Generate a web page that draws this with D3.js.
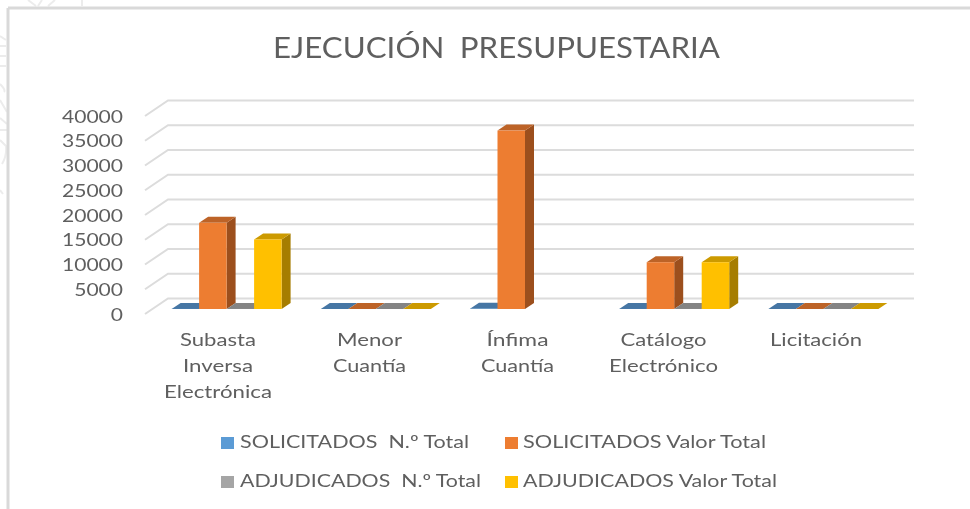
<!DOCTYPE html>
<html>
<head>
<meta charset="utf-8">
<title>Ejecución presupuestaria</title>
<script src="https://cdn.jsdelivr.net/npm/d3@7"></script>
<style>
  html, body { margin: 0; padding: 0; background: #fff; overflow: hidden; }
  svg { display: block; filter: blur(0.45px); }
  text { font-family: Lato, "Open Sans", sans-serif; fill: #5f5f5f; }
</style>
</head>
<body>
<div id="chart"></div>
<script>
const categories = ['Subasta Inversa Electrónica', 'Menor Cuantía', 'Ínfima Cuantía', 'Catálogo Electrónico', 'Licitación']
const seriesNames = ['SOLICITADOS  N.º Total', 'SOLICITADOS Valor Total', 'ADJUDICADOS  N.º Total', 'ADJUDICADOS Valor Total']
// null = no floor mark at all in the picture
const solicitadosNumero = [25, 4, 60, 18, 0]
const solicitadosValor = [17400, 0, 36050, 9450, 0]
const adjudicadosNumero = [20, 2, null, 18, 0]
const adjudicadosValor = [14050, 0, null, 9450, 0]
const yTicks = [0, 5000, 10000, 15000, 20000, 25000, 30000, 35000, 40000]

const seriesValues = [solicitadosNumero, solicitadosValor, adjudicadosNumero, adjudicadosValor]
const colors = ['#5b9bd5', '#ed7d31', '#a5a5a5', '#ffc000']
const topColors = ['#4676a4', '#bd6327', '#848484', '#cc9a00']
const sideColors = ['#37608a', '#9c4f1d', '#6a6a6a', '#a67d00']

// Category labels wrapped like the original, with the width of each line
const catLines = [['Subasta', 'Inversa', 'Electrónica'], ['Menor', 'Cuantía'], ['Ínfima', 'Cuantía'], ['Catálogo', 'Electrónico'], ['Licitación']]
const catWidths = [[76, 70, 108], [65, 73], [62, 73], [86, 109], [92]]
const catCenters = [218, 369.5, 517.5, 663.5, 816]

const width = 970
const height = 509

const svg = d3.select('#chart').append('svg')
  .attr('width', width)
  .attr('height', height)

// Faint page decoration peeking out around the frame
const deco = svg.append('g').attr('fill', 'none').attr('stroke', '#ececec').attr('stroke-width', 2)
deco.append('path').attr('d', 'M0 36 L6 40 M0 46 L6 46 M0 56 L6 56 M0 66 L6 66 M0 84 Q6 90 4 92 M0 100 L7 112 M0 118 L7 124 M0 130 L7 130 M0 140 L6 146 Q7 156 2 164 M0 190 L3 194')
deco.append('path').attr('d', 'M28 0 L36 6 M42 0 L38 6 M55 0 L48 6 M82 0 L82 6')

// Frame
const frame = svg.append('g').attr('stroke', '#d9d9d9').attr('stroke-width', 3)
frame.append('line').attr('x1', 8).attr('y1', 8).attr('x2', width).attr('y2', 8)
frame.append('line').attr('x1', 8).attr('y1', 8).attr('x2', 8).attr('y2', height)

// Text stretched to a known width, the original font is wider than Lato
function fitText (sel, str, w) {
  return sel.text(str)
    .attr('textLength', w)
    .attr('lengthAdjust', 'spacingAndGlyphs')
}

fitText(svg.append('text')
  .attr('x', 273)
  .attr('y', 58)
  .style('font-size', '29px')
  .style('word-spacing', '7px'), 'EJECUCIÓN PRESUPUESTARIA', 447)

const x = d3.scaleBand().domain(categories).range([145, 891])
const y = d3.scaleLinear().domain([0, 40000]).range([314, 116])

// 3D offsets: wall depth, and the bar plane and bar depth inside it
const wallDx = 23
const wallDy = -15.5
const planeDx = 7
const planeDy = -5
const barW = 27.5
const barDx = 9
const barDy = -6

const line3d = d3.line()

// Gridlines running across the floor edge and along the back wall
svg.append('g').selectAll('path')
  .data(yTicks)
  .join('path')
  .attr('fill', 'none')
  .attr('stroke', '#dcdcdc')
  .attr('stroke-width', 2)
  .attr('d', d => line3d([
    [x.range()[0], y(d)],
    [x.range()[0] + wallDx, y(d) + wallDy],
    [x.range()[1] + wallDx, y(d) + wallDy]
  ]))

// Y labels
svg.append('g').selectAll('text')
  .data(yTicks)
  .join('text')
  .attr('x', 123)
  .attr('y', d => y(d) + 6.5)
  .attr('text-anchor', 'end')
  .style('font-size', '18px')
  .attr('textLength', d => String(d).length * 12.2)
  .attr('lengthAdjust', 'spacingAndGlyphs')
  .text(d => d)

// Bars
const bars = svg.append('g')
categories.forEach((cat, i) => {
  const center = x(cat) + x.bandwidth() / 2 + planeDx
  seriesValues.forEach((vals, s) => {
    if (vals[i] === null) return
    const left = center + (s - 2) * barW
    const right = left + barW
    const base = y(0) + planeDy
    const top = y(vals[i]) + planeDy
    const g = bars.append('g')
    g.append('path').attr('fill', sideColors[s]).attr('d', line3d([
      [right, base], [right, top], [right + barDx, top + barDy], [right + barDx, base + barDy]
    ]) + 'Z')
    g.append('path').attr('fill', topColors[s]).attr('d', line3d([
      [left, top], [right, top], [right + barDx, top + barDy], [left + barDx, top + barDy]
    ]) + 'Z')
    g.append('rect')
      .attr('x', left)
      .attr('y', top)
      .attr('width', barW)
      .attr('height', base - top)
      .attr('fill', colors[s])
  })
})

// Category labels
const catGroup = svg.append('g')
categories.forEach((cat, i) => {
  catLines[i].forEach((str, j) => {
    fitText(catGroup.append('text')
      .attr('x', catCenters[i])
      .attr('y', 346 + j * 26)
      .attr('text-anchor', 'middle')
      .style('font-size', '18px'), str, catWidths[i][j])
  })
})

// Legend
const legendX = [221, 505]
const legendY = [443, 482]
const legendW = [229, 243, 241, 254]
seriesNames.forEach((name, s) => {
  const lx = legendX[s % 2]
  const ly = legendY[Math.floor(s / 2)]
  svg.append('rect')
    .attr('x', lx)
    .attr('y', ly - 6)
    .attr('width', 13)
    .attr('height', 12)
    .attr('fill', colors[s])
  fitText(svg.append('text')
    .attr('x', lx + (s % 2 ? 18 : 19))
    .attr('y', ly + 5)
    .attr('xml:space', 'preserve')
    .style('white-space', 'pre')
    .style('font-size', '18px'), name, legendW[s])
})
</script>
</body>
</html>
